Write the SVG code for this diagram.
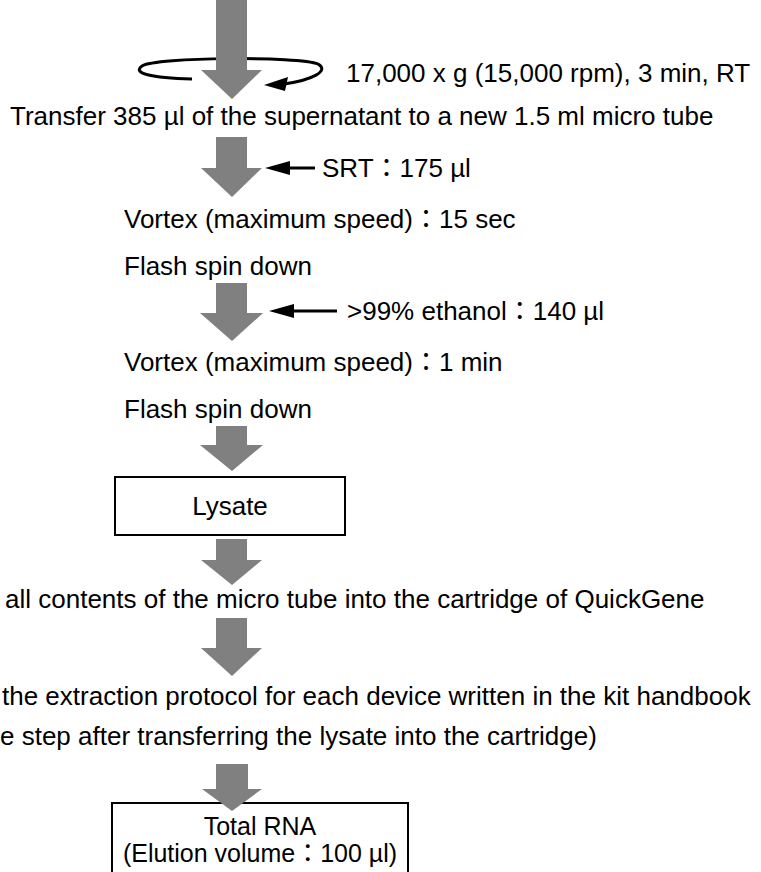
<svg xmlns="http://www.w3.org/2000/svg" width="761" height="872" viewBox="0 0 761 872">
<style>
text{font-family:"Liberation Sans",Arial,"Noto Sans CJK JP",sans-serif;font-size:26px;fill:#000}
.big{fill:#808080}
.box{fill:#fff;stroke:#000;stroke-width:2}
.ln{stroke:#000;stroke-width:3;fill:none}
.mid{text-anchor:middle}
.sm{font-size:25px}
</style>
<rect width="761" height="872" fill="#fff"/>
<g id="connectors">
<path class="ln" d="M192,79 C150,78 132,73 142,66 C155,57 300,56 318,64 C330,71 312,80 284,84" stroke-width="2.5"/>
<polygon points="264,85 288,77 285,91" fill="#000"/>
<polygon class="big" points="216,0 247,0 247,70 262,70 232,99 201,70 216,70"/>
<polygon class="big" points="216,137 247,137 247,168 262,168 232,197 201,168 216,168"/>
<line class="ln" x1="287" y1="168" x2="315" y2="168"/>
<polygon points="265,168 290,161 290,175" fill="#000"/>
<polygon class="big" points="216,283 247,283 247,313 263,313 232,341 200,313 216,313"/>
<line class="ln" x1="291" y1="311" x2="337" y2="311"/>
<polygon points="269,311 294,304 294,318" fill="#000"/>
<polygon class="big" points="216,426 247,426 247,445 263,445 232,471 200,445 216,445"/>
<polygon class="big" points="216,539 247,539 247,560 262,560 232,585 201,560 216,560"/>
<polygon class="big" points="216,618 247,618 247,648 262,648 232,676 201,648 216,648"/>
</g>
<g id="n1"><text x="346" y="82">17,000 x g (15,000 rpm), 3 min, RT</text></g>
<g id="n2"><text x="10" y="125">Transfer 385 µl of the supernatant to a new 1.5 ml micro tube</text></g>
<g id="n3"><text x="322" y="177">SRT：175 µl</text></g>
<g id="n4"><text x="124" y="228">Vortex (maximum speed)：15 sec</text></g>
<g id="n5"><text x="124" y="275">Flash spin down</text></g>
<g id="n6"><text x="347" y="320">&gt;99% ethanol：140 µl</text></g>
<g id="n7"><text x="124" y="371">Vortex (maximum speed)：1 min</text></g>
<g id="n8"><text x="124" y="418">Flash spin down</text></g>
<g id="n9"><rect class="box" x="115" y="477" width="230" height="58"/><text class="mid" x="230" y="515">Lysate</text></g>
<g id="n10"><text x="5" y="608">all contents of the micro tube into the cartridge of QuickGene</text></g>
<g id="n11"><text x="2" y="705">the extraction protocol for each device written in the kit handbook</text></g>
<g id="n12"><text x="0" y="745">e step after transferring the lysate into the cartridge)</text></g>
<g id="n13"><rect class="box" x="112" y="803" width="296" height="80"/><text class="mid sm" x="260" y="835">Total RNA</text><text class="mid sm" x="260" y="862">(Elution volume：100 µl)</text></g>
<g id="a7"><polygon class="big" points="216,764 248,764 248,789 262,789 232,811 202,789 216,789"/></g>
</svg>
